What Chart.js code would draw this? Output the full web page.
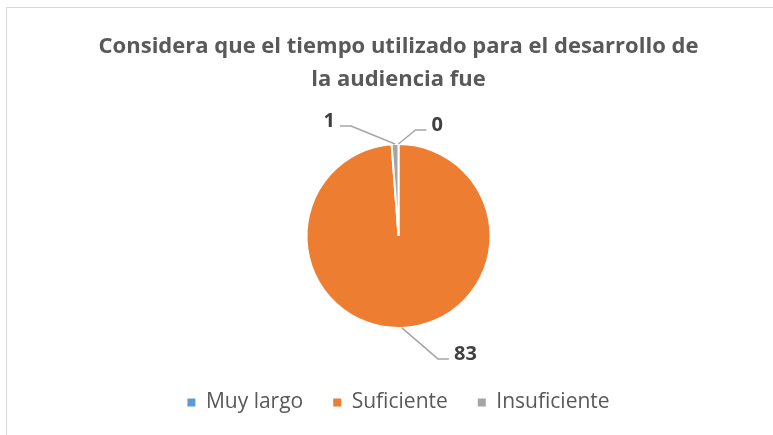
<!DOCTYPE html>
<html>
<head>
<meta charset="utf-8">
<script src="https://cdn.jsdelivr.net/npm/chart.js@4"></script>
<style>
  html, body { margin: 0; padding: 0; background: #fff; overflow: hidden; }
  #wrap { position: relative; width: 773px; height: 435px; }
  #frame { position: absolute; left: 6px; top: 7px; width: 900px; height: 600px; border: 1.5px solid #d9d9d9; }
  #chart { position: absolute; left: 0; top: 0; }
</style>
</head>
<body>
<div id="wrap">
  <div id="frame"></div>
  <canvas id="chart" width="773" height="435"></canvas>
</div>
<script>
'use strict';

/* --------------------------------------------------------------------------
   DATA
   -------------------------------------------------------------------------- */
const titleLines = ['Considera que el tiempo utilizado para el desarrollo de', 'la audiencia fue'];
const categories = ['Muy largo', 'Suficiente', 'Insuficiente'];
const counts = [0, 83, 1];
const sliceColors = ['#5B9BD5', '#ED7D31', '#A5A5A5'];

/* --------------------------------------------------------------------------
   DATA LABELS WITH LEADER LINES (Excel style)
   -------------------------------------------------------------------------- */
// elbow offset from the slice edge, then a short horizontal tail to the text
const labelPlacement = [
    { dx: 17, dy: -14, tail: 11 },
    { dx: 36, dy: 31, tail: 11 },
    { dx: -44, dy: -18, tail: -11 },
];

const leaderLabels = {
    id: 'leaderLabels',
    afterDatasetsDraw(chart) {
        const ctx = chart.ctx;
        const meta = chart.getDatasetMeta(0);
        const values = chart.data.datasets[0].data;
        meta.data.forEach((arc, i) => {
            const p = labelPlacement[i];
            const mid = (arc.startAngle + arc.endAngle) / 2;
            const ax = arc.x + Math.cos(mid) * arc.outerRadius;
            const ay = arc.y + Math.sin(mid) * arc.outerRadius;
            const ex = ax + p.dx, ey = ay + p.dy;
            const tx = ex + p.tail;

            ctx.save();
            ctx.strokeStyle = '#A6A6A6';
            ctx.lineWidth = 1.5;
            ctx.beginPath();
            ctx.moveTo(ax, ay);
            ctx.lineTo(ex, ey);
            ctx.lineTo(tx, ey);
            ctx.stroke();

            ctx.fillStyle = '#404040';
            ctx.font = 'bold 20px "Open Sans", sans-serif';
            ctx.textBaseline = 'alphabetic';
            ctx.textAlign = p.tail > 0 ? 'left' : 'right';
            ctx.fillText(String(values[i]), tx + (p.tail > 0 ? 5 : -5), ey + 1);
            ctx.restore();
        });
    },
};

/* --------------------------------------------------------------------------
   CHART
   -------------------------------------------------------------------------- */
const ctx = document.getElementById('chart').getContext('2d');

new Chart(ctx, {
    type: 'pie',
    data: {
        labels: categories,
        datasets: [{
            data: counts,
            backgroundColor: sliceColors,
            borderColor: '#ffffff',
            borderWidth: 2,
        }],
    },
    options: {
        responsive: false,
        animation: false,
        radius: 92,
        layout: { padding: { left: 24, right: 0, top: 0, bottom: 12 } },
        plugins: {
            title: {
                display: true,
                text: titleLines,
                color: '#595959',
                font: { family: '"Open Sans", sans-serif', size: 22, weight: 'bold', lineHeight: 33 / 22 },
                padding: { top: 30, bottom: 14 },
            },
            legend: {
                position: 'bottom',
                labels: {
                    color: '#595959',
                    font: { family: '"Open Sans", sans-serif', size: 21 },
                    boxWidth: 8,
                    boxHeight: 8,
                    padding: 30,
                    // legend squares without the white slice border
                    generateLabels: chart => Chart.overrides.pie.plugins.legend.labels
                        .generateLabels(chart)
                        .map(item => ({ ...item, lineWidth: 0 })),
                },
            },
            tooltip: { enabled: false },
        },
    },
    plugins: [leaderLabels],
});
</script>
</body>
</html>
